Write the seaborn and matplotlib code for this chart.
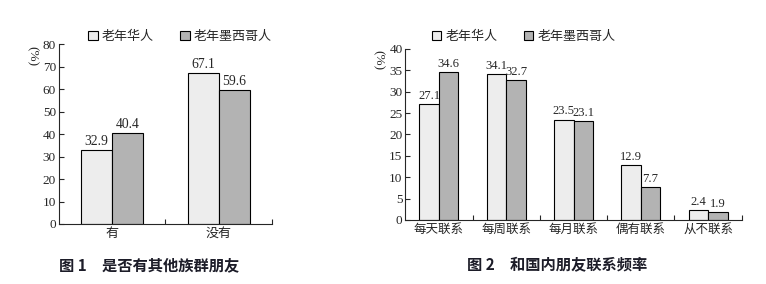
import pandas as pd
import numpy as np
import seaborn as sns
import matplotlib.pyplot as plt
from matplotlib.ticker import FixedLocator

# series / category names
groups = ['老年华人', '老年墨西哥人']
colors = ['#ededed', '#b3b3b3']

# figure 1 data
cats1 = ['有', '没有']
chinese1 = [32.9, 67.1]
mexican1 = [40.4, 59.6]

# figure 2 data
cats2 = ['每天联系', '每周联系', '每月联系', '偶有联系', '从不联系']
chinese2 = [27.1, 34.1, 23.5, 12.9, 2.4]
mexican2 = [34.6, 32.7, 23.1, 7.7, 1.9]

captions = ['图 1　是否有其他族群朋友', '图 2　和国内朋友联系频率']

sns.set_style('ticks')
plt.rcParams['font.family'] = ['Liberation Serif', 'Noto Sans CJK SC', 'DejaVu Sans']
plt.rcParams['font.size'] = 9.5

fig = plt.figure(figsize=(7.66, 2.84), dpi=100)
ax1 = fig.add_axes([0.0766, 0.2113, 0.2785, 0.6328])
ax2 = fig.add_axes([0.5291, 0.2254, 0.4392, 0.6021])


def draw(ax, cats, a, b, ymax, ystep, leg_x, leg_y, fs_val, fs_tick, fs_cat):
    df = pd.DataFrame({'cat': cats * 2,
                       'grp': [groups[0]] * len(cats) + [groups[1]] * len(cats),
                       'val': a + b})
    sns.barplot(data=df, x='cat', y='val', hue='grp', palette=colors, ax=ax,
                width=0.58, edgecolor='black', linewidth=0.8, saturation=1)
    for c in ax.containers:
        ax.bar_label(c, fmt='%.1f', padding=1.5, fontsize=fs_val)
    ax.set_xlim(-0.5, len(cats) - 0.5)
    ax.set_ylim(0, ymax)
    ax.set_yticks(np.arange(0, ymax + 1, ystep))
    ax.set_xlabel('')
    ax.set_ylabel('')
    ax.xaxis.set_minor_locator(FixedLocator(np.arange(0.5, len(cats), 1.0)))
    ax.tick_params(axis='x', which='major', length=0, pad=3, labelsize=fs_cat)
    ax.tick_params(axis='x', which='minor', direction='in', length=3.5, width=0.8)
    ax.tick_params(axis='y', direction='in', length=3.5, width=0.8, pad=2, labelsize=fs_tick)
    sns.despine(ax=ax)
    for s in ['left', 'bottom']:
        ax.spines[s].set_linewidth(0.8)
    h, l = ax.get_legend_handles_labels()
    ax.legend(h, l, ncol=2, frameon=False, loc='center left',
              bbox_to_anchor=(leg_x, leg_y), borderpad=0, borderaxespad=0,
              handlelength=0.75, handleheight=0.75, handletextpad=0.3,
              columnspacing=2.0, fontsize=9.4)


draw(ax1, cats1, chinese1, mexican1, 80, 10, 0.137, 1.04, 9.8, 9.5, 9.4)
draw(ax2, cats2, chinese2, mexican2, 40, 5, 0.0785, 1.072, 9.0, 9.5, 9)

fig.text(32 / 766, 1 - 56 / 284, '(%)', rotation=270, ha='center', va='center', fontsize=9.5)
fig.text(378 / 766, 1 - 60 / 284, '(%)', rotation=270, ha='center', va='center', fontsize=9.5)

fig.text(149 / 766, 1 - 265 / 284, captions[0], ha='center', va='center',
         fontsize=11, fontweight='bold', family=['Noto Sans CJK SC'], color='#1c1c28')
fig.text(557 / 766, 1 - 265 / 284, captions[1], ha='center', va='center',
         fontsize=11, fontweight='bold', family=['Noto Sans CJK SC'], color='#1c1c28')

plt.savefig('out.png', dpi=100)
plt.close()
